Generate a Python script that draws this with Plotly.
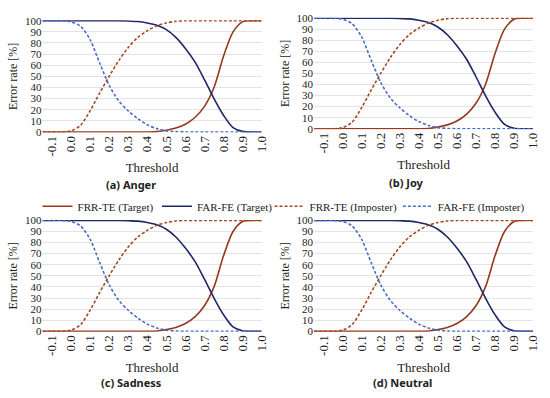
import plotly.graph_objects as go

threshold = [-0.15, -0.10, -0.05, 0.00, 0.05, 0.10, 0.15, 0.20, 0.25, 0.30, 0.35, 0.40,
             0.45, 0.50, 0.55, 0.60, 0.65, 0.70, 0.75, 0.80, 0.85, 0.90, 0.95, 1.00]

frr_te_target = [0, 0, 0, 0, 0, 0, 0, 0, 0, 0, 0, 0,
                 0.3, 1.5, 3.5, 7, 13, 23, 40, 68, 90, 99, 100, 100]
far_fe_target = [100, 100, 100, 100, 100, 100, 100, 100, 100, 99.8, 99.3, 98,
                 96, 92, 85, 75, 63, 47, 30, 15, 4, 0.5, 0, 0]
frr_te_imposter = [0, 0, 0, 1, 6, 19, 35, 50, 64, 76, 85, 91,
                   95.5, 98, 99.5, 100, 100, 100, 100, 100, 100, 100, 100, 100]
far_fe_imposter = [100, 100, 100, 99, 95, 83, 62, 42, 28, 19, 12, 6.5,
                   3, 1, 0.3, 0, 0, 0, 0, 0, 0, 0, 0, 0]

panel_titles = ["(a) Anger", "(b) Joy", "(c) Sadness", "(d) Neutral"]
series_names = ["FRR-TE (Target)", "FAR-FE (Target)", "FRR-TE (Imposter)", "FAR-FE (Imposter)"]
y_ticks = [0, 10, 20, 30, 40, 50, 60, 70, 80, 90, 100]
x_ticks = [-0.1, 0.0, 0.1, 0.2, 0.3, 0.4, 0.5, 0.6, 0.7, 0.8, 0.9, 1.0]

series_vals = [frr_te_target, far_fe_target, frr_te_imposter, far_fe_imposter]
colors = ["#933a1e", "#1f2766", "#a34a24", "#4a6cc4"]
dashes = ["solid", "solid", "3px,2px", "3px,2px"]

W, H = 550, 398
# pixel plot boxes: (x0, x1, ytop(100), ybottom(0))
boxes = [(43, 265, 14.7, 130), (318, 540, 12, 126.7),
         (43, 265, 220, 335), (318, 540, 220, 335)]
legend_ids = ["legend", "legend2", "legend3", "legend4"]
legend_x = [38, 159, 273, 403]

fig = go.Figure()
serif = "Liberation Serif, Times New Roman, serif"

for i, (x0, x1, yt, yb) in enumerate(boxes):
    n = "" if i == 0 else str(i + 1)
    for s in range(4):
        fig.add_trace(go.Scatter(
            x=threshold, y=series_vals[s], mode="lines",
            name=series_names[s], showlegend=(i == 0), legend=legend_ids[s],
            line=dict(color=colors[s], width=1.6, dash=dashes[s], shape="spline", smoothing=0.8),
            xaxis="x" + n, yaxis="y" + n))
    fig.layout["xaxis" + n] = dict(
        domain=[x0 / W, x1 / W], range=[-0.15, 1.0], anchor="y" + n,
        tickmode="array", tickvals=x_ticks,
        ticktext=[f"{v:.1f}" for v in x_ticks], tickangle=-90,
        showgrid=False, zeroline=False, showline=False, ticks="",
        tickfont=dict(family=serif, size=13, color="#222"),
        title=dict(text="Threshold", font=dict(family=serif, size=13, color="#222"), standoff=7))
    fig.layout["yaxis" + n] = dict(
        domain=[1 - yb / H, 1 - yt / H], range=[-0.4, 100.4], anchor="x" + n,
        tickmode="array", tickvals=y_ticks,
        showgrid=True, gridcolor="#e3e3e3", gridwidth=1, zeroline=False,
        showline=False, ticks="",
        tickfont=dict(family=serif, size=11, color="#222"),
        title=dict(text="Error rate [%]", font=dict(family=serif, size=12, color="#222"), standoff=4))

title_pos = [(133, 184), (412, 182), (133, 387), (408, 387)]
for (tx, ty), t in zip(title_pos, panel_titles):
    fig.add_annotation(x=tx / W, y=1 - ty / H, xref="paper", yref="paper",
                       xanchor="center", yanchor="middle",
                       text="<b>" + t + "</b>", showarrow=False,
                       font=dict(family="Noto Sans, Arial, sans-serif", size=11, color="#222"))

legend_common = dict(orientation="h", yanchor="middle", xanchor="left", y=1 - 206 / H,
                     font=dict(family=serif, size=11, color="#222"), itemwidth=30,
                     bgcolor="rgba(0,0,0,0)")
fig.update_layout(
    width=W, height=H, margin=dict(l=0, r=0, t=0, b=0),
    paper_bgcolor="white", plot_bgcolor="white",
    **{lid: dict(x=lx / W, **legend_common) for lid, lx in zip(legend_ids, legend_x)}
)

fig.write_html("out.html", config={"displayModeBar": False},
               post_script="document.body.style.margin='0';")
